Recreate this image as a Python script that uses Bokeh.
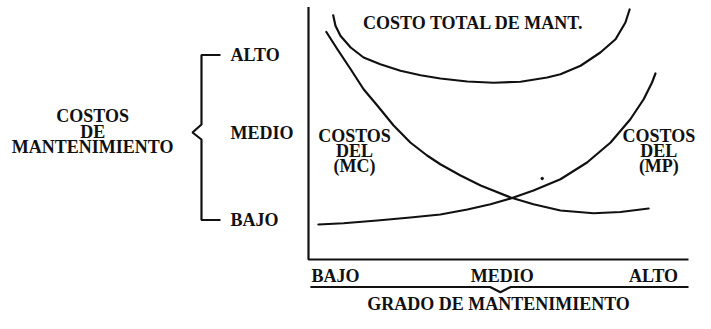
from bokeh.plotting import figure
from bokeh.models import Range1d
from bokeh.core.properties import value
from bokeh.embed import file_html
from bokeh.resources import INLINE

# ---- data (x: grado de mantenimiento 0..10, y: costo 0..10) ----
total_x = [0.65, 0.71, 0.84, 1.11, 1.45, 1.89, 2.42, 2.95, 3.47, 4.18, 4.87,
           5.58, 6.28, 6.63, 7.16, 7.68, 8.08, 8.34, 8.45]
total_y = [9.77, 9.35, 8.95, 8.48, 8.08, 7.81, 7.55, 7.37, 7.24, 7.12, 7.07,
           7.11, 7.28, 7.41, 7.75, 8.28, 8.81, 9.48, 10.0]

mc_x = [0.47, 0.76, 1.11, 1.45, 1.81, 2.24, 2.68, 3.12, 3.47, 4.00, 4.53,
        5.32, 5.92, 6.63, 7.50, 8.21, 8.95]
mc_y = [9.10, 8.41, 7.61, 6.81, 6.16, 5.36, 4.68, 4.16, 3.81, 3.36, 2.96,
        2.48, 2.21, 1.96, 1.85, 1.90, 2.04]

mp_x = [0.26, 0.92, 1.81, 2.68, 3.47, 4.18, 4.79, 5.32, 5.92, 6.63, 7.33,
        7.95, 8.47, 8.82, 9.04, 9.13]
mp_y = [1.40, 1.45, 1.56, 1.68, 1.80, 2.00, 2.21, 2.44, 2.76, 3.21, 3.88,
        4.68, 5.61, 6.41, 7.08, 7.44]

dot_x, dot_y = [6.15], [3.24]

levels = ["BAJO", "MEDIO", "ALTO"]
level_y = [1.58, 5.08, 8.18]      # cost level of each label
level_x = [0.71, 5.10, 9.08]      # grado level of each label

axis_max = 10.0
y_title = ["COSTOS", "DE", "MANTENIMIENTO"]
x_title = "GRADO DE MANTENIMIENTO"
total_label = "COSTO TOTAL DE MANT."
mc_label = ["COSTOS", "DEL", "(MC)"]
mp_label = ["COSTOS", "DEL", "(MP)"]

FONT = value("Liberation Serif")
FS = "18px"
LW = 2.2

p = figure(width=695, height=313, x_range=Range1d(-8.105, 10.184),
           y_range=Range1d(-2.16, 10.36), output_backend="svg",
           toolbar_location=None, min_border=0)
p.axis.visible = False
p.grid.visible = False
p.outline_line_color = None
p.background_fill_color = "white"
p.border_fill_color = "white"

black = "#111111"

# axes
p.line([0, 0, axis_max], [axis_max + 0.1, 0, 0], line_color=black, line_width=LW)

# curves
for xs, ys in [(total_x, total_y), (mc_x, mc_y), (mp_x, mp_y)]:
    p.line(xs, ys, line_color=black, line_width=LW, line_join="round",
           line_cap="round")
p.scatter(dot_x, dot_y, size=2.5, color=black)

def txt(xs, ys, texts, align="center"):
    p.text(x=xs, y=ys, text=texts, text_font=FONT, text_font_size=FS,
           text_font_style="bold", text_align=align, text_baseline="middle",
           text_color=black)

# y level labels
txt([-2.05] * 3, level_y, levels, align="left")
# x level labels
txt(level_x, [-0.66] * 3, levels)

# y brace
bx, hx, px_ = -2.816, -2.316, -3.053
mid = (level_y[0] + level_y[2]) / 2 + 0.2
p.line([hx, bx, bx, px_, bx, bx, hx],
       [level_y[2], level_y[2], mid + 0.32, mid, mid - 0.28, level_y[0], level_y[0]],
       line_color=black, line_width=LW)

# x brace
bl = -1.10
xm = 5.05
p.line([0.05, xm - 0.27, xm, xm + 0.27, axis_max],
       [bl, bl, bl - 0.21, bl, bl], line_color=black, line_width=LW)

# titles
txt([-5.68] * 3, [5.76, 5.12, 4.52], y_title)
txt([5.0], [-1.78], [x_title])
txt([4.34], [9.48], [total_label])
txt([1.21] * 3, [4.96, 4.36, 3.76], mc_label)
txt([9.22] * 3, [4.96, 4.36, 3.76], mp_label)

open("out.html", "w").write(file_html(p, INLINE))
